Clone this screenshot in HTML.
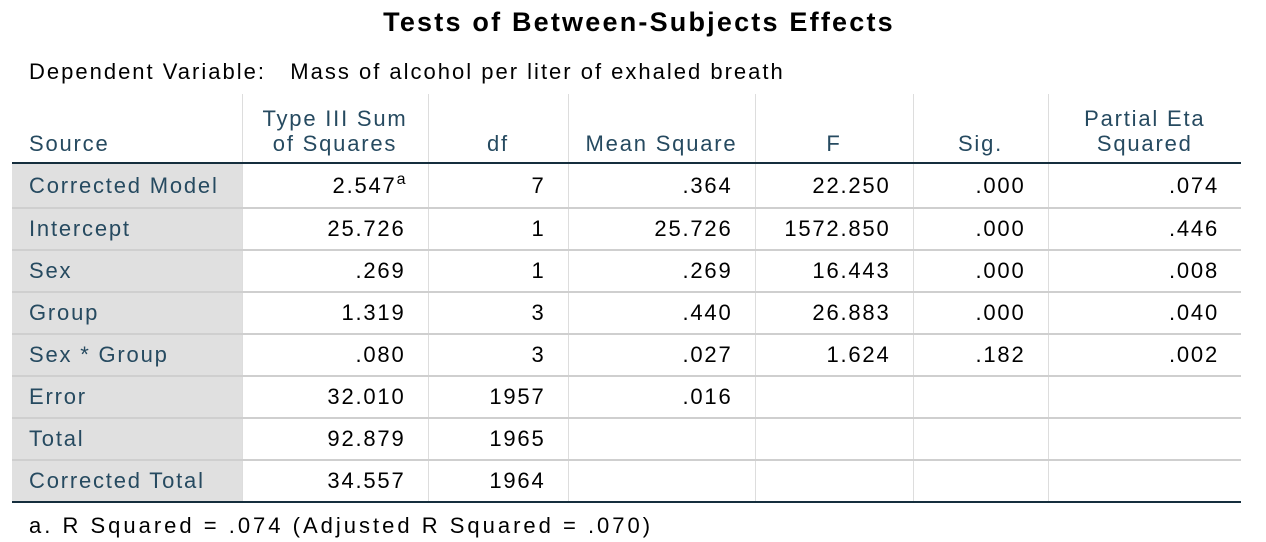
<!DOCTYPE html>
<html><head><style>
body{margin:0;background:#fff;width:1266px;height:542px;overflow:hidden;font-family:"Liberation Sans",sans-serif;position:relative}
.t{position:absolute;top:7px;left:6px;width:1266px;text-align:center;font-weight:bold;font-size:27px;color:#000;letter-spacing:2.2px}
.dv{position:absolute;top:59px;left:29px;font-size:22px;color:#000;letter-spacing:2px}
table{position:absolute;left:12px;top:94px;border-collapse:collapse;table-layout:fixed;font-size:22px;letter-spacing:1.8px}
td,th{padding:0 22px 0 0;white-space:nowrap;overflow:visible}
th{font-weight:normal;color:#264a60;vertical-align:bottom;line-height:25px;border-left:1px solid #ddd;padding-bottom:6px;padding-right:0;text-align:center}
th:first-child{border-left:none;text-align:left;padding-left:17px}
thead tr{height:69px;border-bottom:2px solid #152e3d}
tbody tr{height:42px;border-bottom:2px solid #cfcfcf}
tbody tr:first-child{height:45px}
tbody tr:last-child{border-bottom:2px solid #152e3d}
td{text-align:right;color:#000;border-left:1px solid #ddd}
td:first-child{background:#e0e0e0;color:#264a60;text-align:left;padding-left:17px;border-left:none}
sup{font-size:16px;vertical-align:9px;line-height:0;letter-spacing:0}
.f{position:absolute;top:513px;left:29px;font-size:22px;letter-spacing:3px}
</style></head><body>
<div class="t">Tests of Between-Subjects Effects</div>
<div class="dv">Dependent Variable:&nbsp;&nbsp;&nbsp;Mass of alcohol per liter of exhaled breath</div>
<table>
<colgroup><col style="width:230px"><col style="width:186px"><col style="width:140px"><col style="width:187px"><col style="width:158px"><col style="width:135px"><col style="width:193px"></colgroup>
<thead><tr><th>Source</th><th>Type III Sum<br>of Squares</th><th>df</th><th>Mean Square</th><th>F</th><th>Sig.</th><th>Partial Eta<br>Squared</th></tr></thead>
<tbody>
<tr><td>Corrected Model</td><td>2.547<sup>a</sup></td><td>7</td><td>.364</td><td>22.250</td><td>.000</td><td>.074</td></tr>
<tr><td>Intercept</td><td>25.726</td><td>1</td><td>25.726</td><td>1572.850</td><td>.000</td><td>.446</td></tr>
<tr><td>Sex</td><td>.269</td><td>1</td><td>.269</td><td>16.443</td><td>.000</td><td>.008</td></tr>
<tr><td>Group</td><td>1.319</td><td>3</td><td>.440</td><td>26.883</td><td>.000</td><td>.040</td></tr>
<tr><td>Sex * Group</td><td>.080</td><td>3</td><td>.027</td><td>1.624</td><td>.182</td><td>.002</td></tr>
<tr><td>Error</td><td>32.010</td><td>1957</td><td>.016</td><td></td><td></td><td></td></tr>
<tr><td>Total</td><td>92.879</td><td>1965</td><td></td><td></td><td></td><td></td></tr>
<tr><td>Corrected Total</td><td>34.557</td><td>1964</td><td></td><td></td><td></td><td></td></tr>
</tbody></table>
<div class="f">a. R Squared = .074 (Adjusted R Squared = .070)</div>
</body></html>
